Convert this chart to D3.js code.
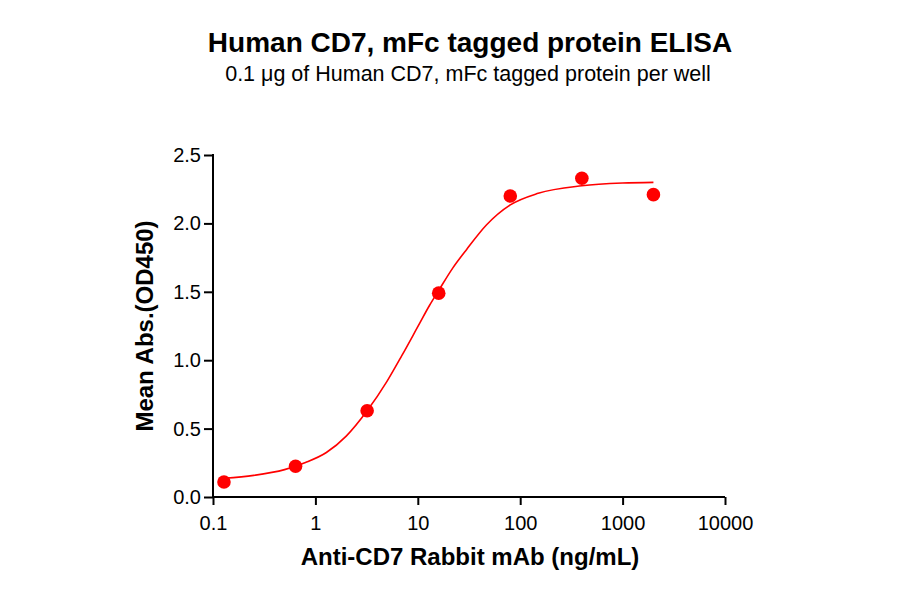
<!DOCTYPE html>
<html><head><meta charset="utf-8">
<script src="https://cdn.jsdelivr.net/npm/d3@7"></script>
<style>body{margin:0;background:#fff}svg{display:block}text{font-family:"Liberation Sans",Arial,sans-serif}</style>
</head><body><svg id="c" width="900" height="594"></svg>
<script>
// Measured data (concentration in ng/mL, mean OD450)
const concentrations = [0.128, 0.64, 3.2, 16, 80, 400, 2000];
const meanAbs = [0.11, 0.225, 0.63, 1.49, 2.20, 2.33, 2.21];
// Fitted curve
const fitConc = [0.128, 0.25, 0.5, 0.8, 1.28, 2, 3.2, 5, 7, 10, 13, 16, 22, 30, 47, 80, 150, 400, 1000, 2000];
const fitAbs = [0.137, 0.158, 0.20, 0.252, 0.325, 0.445, 0.63, 0.845, 1.035, 1.245, 1.40, 1.51, 1.675, 1.81, 1.99, 2.135, 2.22, 2.275, 2.295, 2.30];
const xTicks = [0.1, 1, 10, 100, 1000, 10000];
const xTickLabels = ["0.1", "1", "10", "100", "1000", "10000"];
const yTicks = [0.0, 0.5, 1.0, 1.5, 2.0, 2.5];
const yTickLabels = ["0.0", "0.5", "1.0", "1.5", "2.0", "2.5"];

const svg = d3.select("#c");
const x = d3.scaleLog().domain([0.1, 10000]).range([213, 725]);
const y = d3.scaleLinear().domain([0, 2.5]).range([497, 155]);
const red = "#ff0000";

// axes
const xAxis = d3.axisBottom(x).tickValues(xTicks).tickFormat((d,i)=>xTickLabels[i]).tickSize(8).tickPadding(11);
const yAxis = d3.axisLeft(y).tickValues(yTicks).tickFormat((d,i)=>yTickLabels[i]).tickSize(9).tickPadding(3);
const gx = svg.append("g").attr("transform","translate(0,497)").call(xAxis);
const gy = svg.append("g").attr("transform","translate(213,0)").call(yAxis);
[gx, gy].forEach(g => {
  g.select(".domain").attr("stroke","#000").attr("stroke-width",2);
  g.selectAll(".tick line").attr("stroke","#000").attr("stroke-width",2);
  g.selectAll(".tick text").attr("fill","#000").style("font-size","20px").style("font-family","'Liberation Sans',Arial,sans-serif");
});
gx.select(".domain").attr("d", "M212,0H725");
gy.select(".domain").attr("d", "M0,154V498");

// fit curve
const line = d3.line().x((d,i)=>x(fitConc[i])).y(d=>y(d)).curve(d3.curveMonotoneX);
svg.append("path").attr("d", line(fitAbs)).attr("fill","none").attr("stroke",red).attr("stroke-width",1.6);

// points
svg.append("g").selectAll("circle").data(meanAbs).join("circle")
  .attr("cx",(d,i)=>x(concentrations[i])).attr("cy",d=>y(d)).attr("r",6.8).attr("fill",red);

// titles
svg.append("text").attr("x",470).attr("y",52).attr("text-anchor","middle")
  .style("font-size","28px").style("font-weight","bold").text("Human CD7, mFc tagged protein ELISA");
svg.append("text").attr("x",468).attr("y",81).attr("text-anchor","middle")
  .style("font-size","21.5px").text("0.1 μg of Human CD7, mFc tagged protein per well");
svg.append("text").attr("x",470).attr("y",565).attr("text-anchor","middle")
  .style("font-size","24px").style("font-weight","bold").text("Anti-CD7 Rabbit mAb (ng/mL)");
svg.append("text").attr("transform","translate(153,326) rotate(-90)").attr("text-anchor","middle")
  .style("font-size","24px").style("font-weight","bold").text("Mean Abs.(OD450)");
</script></body></html>
